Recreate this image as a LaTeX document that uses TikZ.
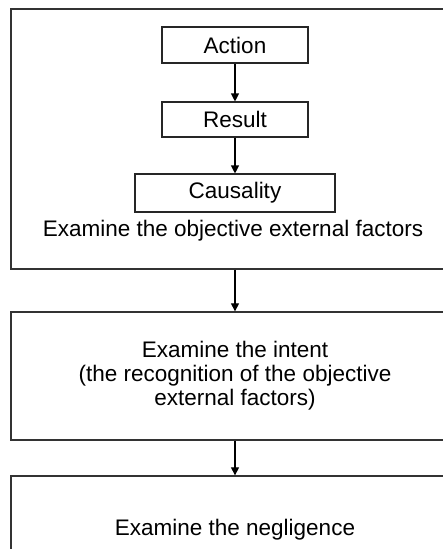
\documentclass[tikz,border=0pt]{standalone}
\usepackage{fontspec}
\setmainfont{Liberation Sans}
\usetikzlibrary{arrows.meta}
\tikzset{
  outerbox/.style={draw=black!80, line width=1.3pt, minimum width=448pt, inner sep=0pt},
  innerbox/.style={draw=black!85, line width=1.1pt, inner sep=0pt},
  lbl/.style={inner sep=0pt, align=center},
}
\begin{document}
\begin{tikzpicture}[x=1pt, y=-1pt, font=\fontsize{22.5}{24}\selectfont]
      \useasboundingbox (0,0) rectangle (443,549);
      \clip (0,0) rectangle (443,549);
      \node[outerbox, minimum height=260pt] (obj) at (235,139) {};
      \node[outerbox, minimum height=128pt] (intent) at (235,376) {};
      \node[outerbox, minimum height=108pt] (negl) at (235,530) {};
      \node[innerbox, minimum width=146pt, minimum height=36pt] (action) at (235,45) {Action};
      \node[innerbox, minimum width=146pt, minimum height=35pt] (result) at (235,119.5) {Result};
      \node[innerbox, minimum width=200pt, minimum height=38pt] (causal) at (235,193) {Causality};
      \node[lbl] (objtxt) at (233,231) {Examine the objective external factors};
      \node[lbl] (inttxt) at (235,376) {Examine the intent\\(the recognition of the objective\\external factors)};
      \node[lbl] (negtxt) at (235,530) {Examine the negligence};
      \begin{scope}[line width=1.1pt, -{Triangle[width=8pt,length=8pt]}]
        \draw (action) to (result);
        \draw (result) to (causal);
        \draw (obj) to (intent);
        \draw (intent) to (negl);
      \end{scope}
    \end{tikzpicture}
\end{document}
